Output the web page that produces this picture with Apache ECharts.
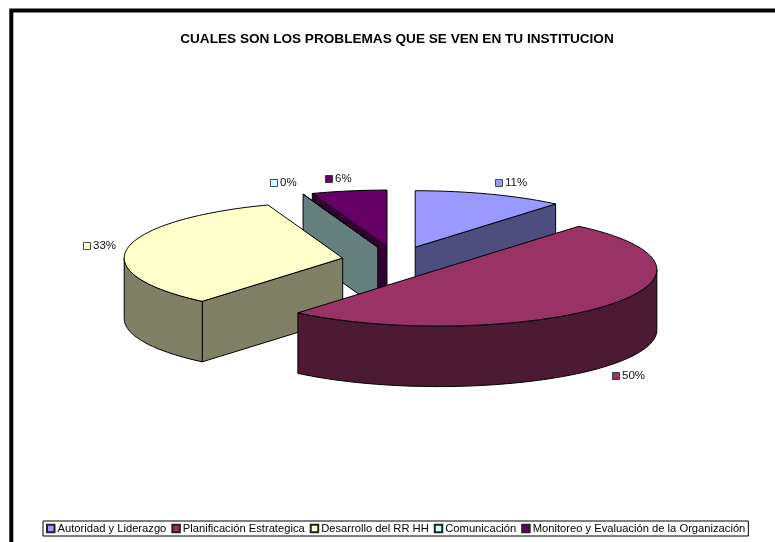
<!DOCTYPE html>
<html>
<head>
<meta charset="utf-8">
<style>html,body{margin:0;padding:0;background:#fff}#c{width:775px;height:542px}</style>
<script src="https://cdn.jsdelivr.net/npm/echarts@6/dist/echarts.min.js"></script>
</head>
<body>
<div id="c"></div>
<script>
var titleText = 'CUALES SON LOS PROBLEMAS QUE SE VEN EN TU INSTITUCION';
var categories = ['Autoridad y Liderazgo', 'Planificación Estrategica', 'Desarrollo del RR HH', 'Comunicación', 'Monitoreo y Evaluación de la Organización'];
var values = [2, 9, 6, 0, 1];
var topColors = ['#9999FF', '#993366', '#FFFFCC', '#CCFFFF', '#660066'];
var wallColors = ['#4D4D80', '#4D1A33', '#808066', '#668080', '#330033'];

// Layout of the exploded tilted pie
var CX = 396.5, CY = 260.5, RX = 218.5, RY = 56.5, DEPTH = 60.5, EXPLODE = 0.25;
// Label anchors (marker centre) beside each slice
var labelX = [499, 616, 87, 274, 329];
var labelY = [183, 376, 246, 183, 179];

var total = values.reduce(function (a, b) { return a + b; }, 0);
var starts = [], ends = [], acc = 0;
values.forEach(function (v) { starts.push(acc / total * 360); acc += v; ends.push(acc / total * 360); });

function rad(d) { return d * Math.PI / 180; }

function renderSlice(i) {
  var s = starts[i], e = ends[i], mid = (s + e) / 2;
  var ax = CX + EXPLODE * RX * Math.sin(rad(mid));
  var ay = CY - EXPLODE * RY * Math.cos(rad(mid));
  function rim(t) { return [ax + RX * Math.sin(rad(t)), ay - RY * Math.cos(rad(t))]; }
  function down(p) { return [p[0], p[1] + DEPTH]; }
  function arc(a, b) {
    var pts = [], n = Math.max(1, Math.ceil(Math.abs(b - a) / 1.5));
    for (var k = 0; k <= n; k++) pts.push(rim(a + (b - a) * k / n));
    return pts;
  }
  var stroke = { stroke: '#000', lineWidth: 1, lineJoin: 'round' };
  function poly(points, fill) {
    return { type: 'polygon', shape: { points: points }, style: Object.assign({ fill: fill }, stroke) };
  }
  var apex = [ax, ay], kids = [];
  // back-facing edge walls are culled by the angle of the edge
  if (Math.sin(rad(e)) > 1e-6 && e > s) {
    var re = rim(e);
    kids.push(poly([apex, re, down(re), down(apex)], wallColors[i]));
  }
  if (Math.sin(rad(s)) < -1e-6) {
    var rs = rim(s);
    kids.push(poly([apex, rs, down(rs), down(apex)], wallColors[i]));
  }
  var fa = Math.max(s, 90), fb = Math.min(e, 270);
  if (fb > fa) {
    var upper = arc(fa, fb);
    var lower = upper.map(down).reverse();
    kids.push(poly(upper.concat(lower), wallColors[i]));
  }
  kids.push(poly([apex].concat(arc(s, e)), topColors[i]));
  return { type: 'group', children: kids };
}

function renderLabel(i) {
  var x = labelX[i], y = labelY[i];
  return {
    type: 'group', z2: 100, children: [
      { type: 'rect', shape: { x: x - 3.5, y: y - 3.5, width: 7, height: 7 }, z2: 100,
        style: { fill: topColors[i], stroke: '#222', lineWidth: 0.8 } },
      { type: 'text', x: x + 6, y: y, z2: 100,
        style: { text: Math.round(values[i] / total * 100) + '%', fill: '#111', font: '11.5px "Liberation Sans", Arial, sans-serif', textAlign: 'left', textVerticalAlign: 'middle' } }
    ]
  };
}

// paint back-to-front: slices further back (mid angle near 12 o'clock) first
var paintRank = values.map(function (v, i) { return -Math.cos(rad((starts[i] + ends[i]) / 2)); });

var series = categories.map(function (name, i) {
  return {
    type: 'custom',
    name: name,
    coordinateSystem: 'none',
    silent: true,
    animation: false,
    z: 2 + paintRank[i],
    itemStyle: { color: topColors[i], borderColor: '#222', borderWidth: 0.8 },
    data: [values[i]],
    renderItem: function () { return renderSlice(i); }
  };
});
series.push({
  type: 'custom',
  coordinateSystem: 'none',
  silent: true,
  animation: false,
  z: 10,
  data: values,
  renderItem: function (p) { return renderLabel(p.dataIndex); }
});

var chart = echarts.init(document.getElementById('c'), null, { renderer: 'canvas' });
chart.setOption({
  animation: false,
  backgroundColor: '#fff',
  title: {
    text: titleText,
    left: 392, top: 27, textAlign: 'center',
    textStyle: { fontFamily: '"Liberation Sans", Arial, sans-serif', fontSize: 13.6, fontWeight: 'bold', color: '#000' }
  },
  legend: {
    data: categories,
    left: 43, top: 521,
    orient: 'horizontal',
    padding: [2, 3, 2, 3],
    itemWidth: 7.5, itemHeight: 7.5, itemGap: 5,
    icon: 'rect',
    borderColor: '#000', borderWidth: 1,
    backgroundColor: '#fff',
    selectedMode: false,
    textStyle: { fontFamily: '"Liberation Sans", Arial, sans-serif', fontSize: 11.2, color: '#000', padding: [0, 0, 0, -2] }
  },
  graphic: [{
    type: 'polyline', silent: true,
    shape: { points: [[11.3, 560], [11.3, 10.5], [800, 10.5]] },
    style: { fill: null, stroke: '#000', lineWidth: 4 }
  }],
  series: series
});
</script>
</body>
</html>
